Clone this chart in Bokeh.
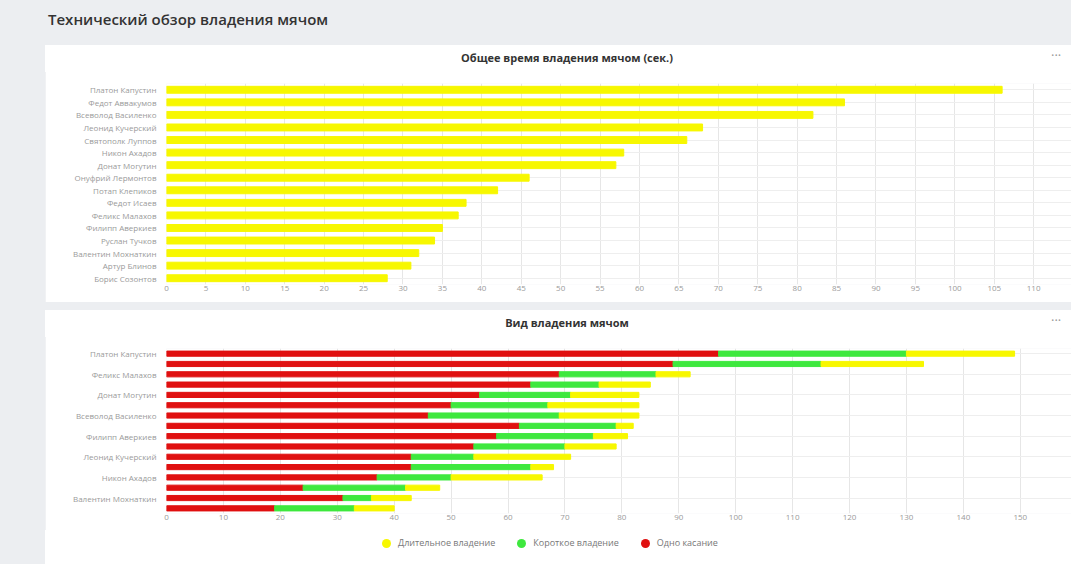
from bokeh.plotting import figure
from bokeh.models import (Range1d, FactorRange, FixedTicker, ColumnDataSource, Div)
from bokeh.layouts import column
from bokeh.embed import file_html
from bokeh.resources import INLINE

# ---------------- data ----------------
names_total = ["Платон Капустин", "Федот Аввакумов", "Всеволод Василенко", "Леонид Кучерский",
               "Святополк Луппов", "Никон Ахадов", "Донат Могутин", "Онуфрий Лермонтов",
               "Потап Клепиков", "Федот Исаев", "Феликс Малахов", "Филипп Аверкиев",
               "Руслан Тучков", "Валентин Мохнаткин", "Артур Блинов", "Борис Созонтов"]
total_time = [106, 86, 82, 68, 66, 58, 57, 46, 42, 38, 37, 35, 34, 32, 31, 28]

names_kind = ["Платон Капустин", "Федот Аввакумов", "Феликс Малахов", "Святополк Луппов",
              "Донат Могутин", "Онуфрий Лермонтов", "Всеволод Василенко", "Потап Клепиков",
              "Филипп Аверкиев", "Федот Исаев", "Леонид Кучерский", "Руслан Тучков",
              "Никон Ахадов", "Артур Блинов", "Валентин Мохнаткин", "Борис Созонтов"]
one_touch = [97, 89, 69, 64, 55, 50, 46, 62, 58, 54, 43, 43, 37, 24, 31, 19]
short_poss = [33, 26, 17, 12, 16, 17, 23, 17, 17, 16, 11, 21, 13, 18, 5, 14]
long_poss = [19, 18, 6, 9, 12, 16, 14, 3, 6, 9, 17, 4, 16, 6, 7, 7]
shown_labels = ["Платон Капустин", "Феликс Малахов", "Донат Могутин", "Всеволод Василенко",
                "Филипп Аверкиев", "Леонид Кучерский", "Никон Ахадов", "Валентин Мохнаткин"]

legend_order = ["Длительное владение", "Короткое владение", "Одно касание"]

FONT = "Open Sans"
YELLOW = "#f7f700"
GREEN = "#3ee83e"
RED = "#e01010"
GRID = "#e6e6e6"
LABEL = "#9a9a9a"
colors = {"Одно касание": RED, "Короткое владение": GREEN, "Длительное владение": YELLOW}


def style(p):
    p.outline_line_color = None
    p.toolbar_location = None
    for ax in (p.xaxis, p.yaxis):
        ax.axis_line_color = None
        ax.major_tick_line_color = None
        ax.minor_tick_line_color = None
        ax.major_tick_out = 0
        ax.major_tick_in = 0
        ax.minor_tick_out = 0
        ax.major_label_text_font = FONT
        ax.major_label_text_font_size = "8px"
        ax.major_label_text_color = LABEL
    p.xaxis.major_label_standoff = 1
    p.yaxis.major_label_standoff = 10
    p.xgrid.grid_line_color = GRID
    p.ygrid.grid_line_color = "#eeeeee"
    p.background_fill_color = "white"
    p.border_fill_color = "white"


def panel_title(text, top_margin):
    html = ('<div style="position:relative;width:1026px;height:26px;font-family:\'Open Sans\';'
            'background:white;">'
            '<div style="position:absolute;left:18px;right:0;top:5px;text-align:center;'
            f'font-size:11px;font-weight:700;color:#333;">{text}</div>'
            '<div style="position:absolute;left:1006px;top:1px;font-size:13px;color:#999;">'
            '···</div></div>')
    return Div(text=html, width=1026, height=25, margin=(top_margin, 0, 0, 45),
               styles={"background-color": "white", "box-shadow": "0 2px 0 white"})


# ---------------- top chart ----------------
t1 = panel_title("Общее время владения мячом (сек.)", 0)
p1 = figure(width=1026, height=232, output_backend="svg", toolbar_location=None,
            y_range=FactorRange(factors=names_total[::-1]), x_range=Range1d(0, 114.8),
            min_border_left=121, min_border_right=0, min_border_top=13, min_border_bottom=18,
            margin=(0, 0, 0, 45))
p1.hbar(y=names_total, right=total_time, left=0, height=0.55, color=YELLOW)
p1.xaxis.ticker = FixedTicker(ticks=list(range(0, 111, 5)))
style(p1)

# ---------------- bottom chart ----------------
t2 = panel_title("Вид владения мячом", 8)
src = ColumnDataSource(dict(y=list(range(len(names_kind))), name=names_kind,
                            one=one_touch, short=short_poss, long=long_poss))
p2 = figure(width=1026, height=197, output_backend="svg", toolbar_location=None,
            y_range=Range1d(15.5, -0.5), x_range=Range1d(0, 159),
            min_border_left=121, min_border_right=0, min_border_top=13, min_border_bottom=19,
            margin=(0, 0, 0, 45))
p2.hbar_stack(["one", "short", "long"], y="y", height=0.5, color=[RED, GREEN, YELLOW],
              source=src)
p2.xaxis.ticker = FixedTicker(ticks=list(range(0, 151, 10)))
tick_pos = [names_kind.index(n) for n in shown_labels]
p2.yaxis.ticker = FixedTicker(ticks=tick_pos)
p2.yaxis.major_label_overrides = {i: names_kind[i] for i in tick_pos}
style(p2)

# legend as HTML inside the white panel
parts = []
for nm in legend_order:
    parts.append(
        '<span style="display:inline-flex;align-items:center;margin-right:22px;">'
        f'<span style="display:inline-block;width:9px;height:9px;border-radius:50%;'
        f'background:{colors[nm]};margin-right:7px;"></span>'
        f'<span>{nm}</span></span>')
legend_div = Div(text='<div style="font-family:\'Open Sans\';font-size:9px;color:#777;'
                      'padding-top:5px;padding-left:337px;white-space:nowrap;">'
                      + "".join(parts) + "</div>",
                 width=1026, height=32, margin=(0, 0, 0, 45),
                 styles={"background-color": "white", "box-shadow": "0 -2px 0 white"})

title = Div(text='<div style="font-family:\'Open Sans\';font-size:15px;font-weight:600;'
                 'color:#333;padding-top:9px;">Технический обзор владения мячом</div>',
            width=900, height=45, margin=(0, 0, 0, 48))

root = column(title, t1, p1, t2, p2, legend_div, width=1071, height=564, spacing=0,
              styles={"background-color": "#eceef1"})

open("out.html", "w").write(file_html(root, INLINE))
